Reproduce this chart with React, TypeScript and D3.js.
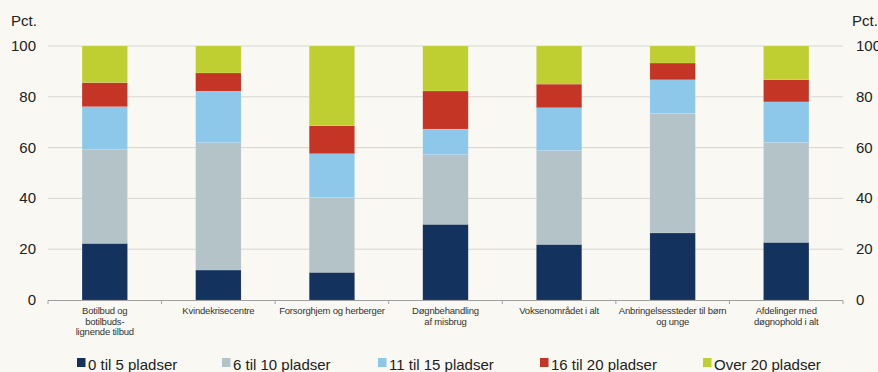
import React from "react";
import * as d3 from "d3";

const categories: string[][] = [
  ["Botilbud og", "botilbuds-", "lignende tilbud"],
  ["Kvindekrisecentre"],
  ["Forsorghjem og herberger"],
  ["Døgnbehandling", "af misbrug"],
  ["Voksenområdet i alt"],
  ["Anbringelsessteder til børn", "og unge"],
  ["Afdelinger med", "døgnophold i alt"],
];

const seriesNames = [
  "0 til 5 pladser",
  "6 til 10 pladser",
  "11 til 15 pladser",
  "16 til 20 pladser",
  "Over 20 pladser",
];

const s0to5 = [22.3, 11.8, 10.9, 29.8, 21.9, 26.4, 22.7];
const s6to10 = [37.1, 50.1, 29.5, 27.4, 36.9, 47.1, 39.3];
const s11to15 = [16.7, 20.3, 17.2, 10.1, 16.9, 13.2, 16.0];
const s16to20 = [9.5, 7.2, 11.0, 15.0, 9.3, 6.6, 8.7];
const sOver20 = [14.4, 10.6, 31.4, 17.7, 15.0, 6.7, 13.3];

const yTicks = [0, 20, 40, 60, 80, 100];

const colors = ["#14325e", "#b4c3c8", "#8dc8ea", "#c43526", "#bfce30"];

const W = 878;
const H = 372;
const M = { left: 48, right: 35, top: 46, bottom: 72 };

export default function App() {
  const series = [s0to5, s6to10, s11to15, s16to20, sOver20];
  const rows = categories.map((c, i) => {
    const o: any = { key: i };
    series.forEach((s, j) => (o["s" + j] = s[i]));
    return o;
  });
  const keys = series.map((_, j) => "s" + j);
  const stacked = d3.stack().keys(keys)(rows);

  const x = d3
    .scaleBand<number>()
    .domain(categories.map((_, i) => i))
    .range([M.left, W - M.right])
    .paddingInner(0.6)
    .paddingOuter(0.3);
  const y = d3.scaleLinear().domain([0, 100]).range([H - M.bottom, M.top]);

  const step = x.step();
  const bandStart = M.left;
  const font = "'Liberation Sans', Arial, sans-serif";
  const legendX = [77, 222, 378, 540, 703];

  return (
    <svg
      width={W}
      height={H}
      style={{ position: "absolute", left: 0, top: 0, background: "#f9f8f2" }}
      fontFamily={font}
    >
      <rect x={0} y={0} width={W} height={H} fill="#f9f8f2" />
      {yTicks.map((t) =>
        t === 0 ? null : (
          <line
            key={t}
            x1={M.left}
            x2={W - M.right}
            y1={y(t)}
            y2={y(t)}
            stroke="#d6d6d3"
            strokeWidth={1}
          />
        )
      )}
      {yTicks.map((t) => (
        <g key={"l" + t}>
          <text x={36} y={y(t) + 5} textAnchor="end" fontSize={15} fill="#222">
            {t}
          </text>
          <text x={856} y={y(t) + 5} textAnchor="start" fontSize={15} fill="#222">
            {t}
          </text>
        </g>
      ))}
      <text x={11} y={26} fontSize={15} fill="#222">
        Pct.
      </text>
      <text x={852} y={26} fontSize={15} fill="#222">
        Pct.
      </text>
      {stacked.map((layer, j) => (
        <g key={layer.key} fill={colors[j]}>
          {layer.map((d, i) => (
            <rect
              key={i}
              x={x(i)!}
              width={x.bandwidth()}
              y={y(d[1])}
              height={y(d[0]) - y(d[1])}
              stroke="#ffffff"
              strokeOpacity={0.25}
              strokeWidth={0.5}
            />
          ))}
        </g>
      ))}
      <line
        x1={M.left}
        x2={W - M.right}
        y1={y(0) + 0.5}
        y2={y(0) + 0.5}
        stroke="#a0a0a0"
        strokeWidth={1}
      />
      {d3.range(categories.length + 1).map((i) => (
        <line
          key={"t" + i}
          x1={bandStart + i * step}
          x2={bandStart + i * step}
          y1={y(0) + 0.5}
          y2={y(0) + 4}
          stroke="#a0a0a0"
        />
      ))}
      {categories.map((lines, i) => (
        <text
          key={"c" + i}
          textAnchor="middle"
          fontSize={9.5}
          fill="#333"
          letterSpacing={-0.2}
        >
          {lines.map((ln, k) => (
            <tspan key={k} x={x(i)! + x.bandwidth() / 2} y={314 + k * 10.5}>
              {ln}
            </tspan>
          ))}
        </text>
      ))}
      {seriesNames.map((n, j) => (
        <g key={"lg" + j}>
          <rect x={legendX[j]} y={358} width={8.5} height={9} fill={colors[j]} />
          <text x={legendX[j] + 11} y={369.5} fontSize={15} fill="#222">
            {n}
          </text>
        </g>
      ))}
    </svg>
  );
}
